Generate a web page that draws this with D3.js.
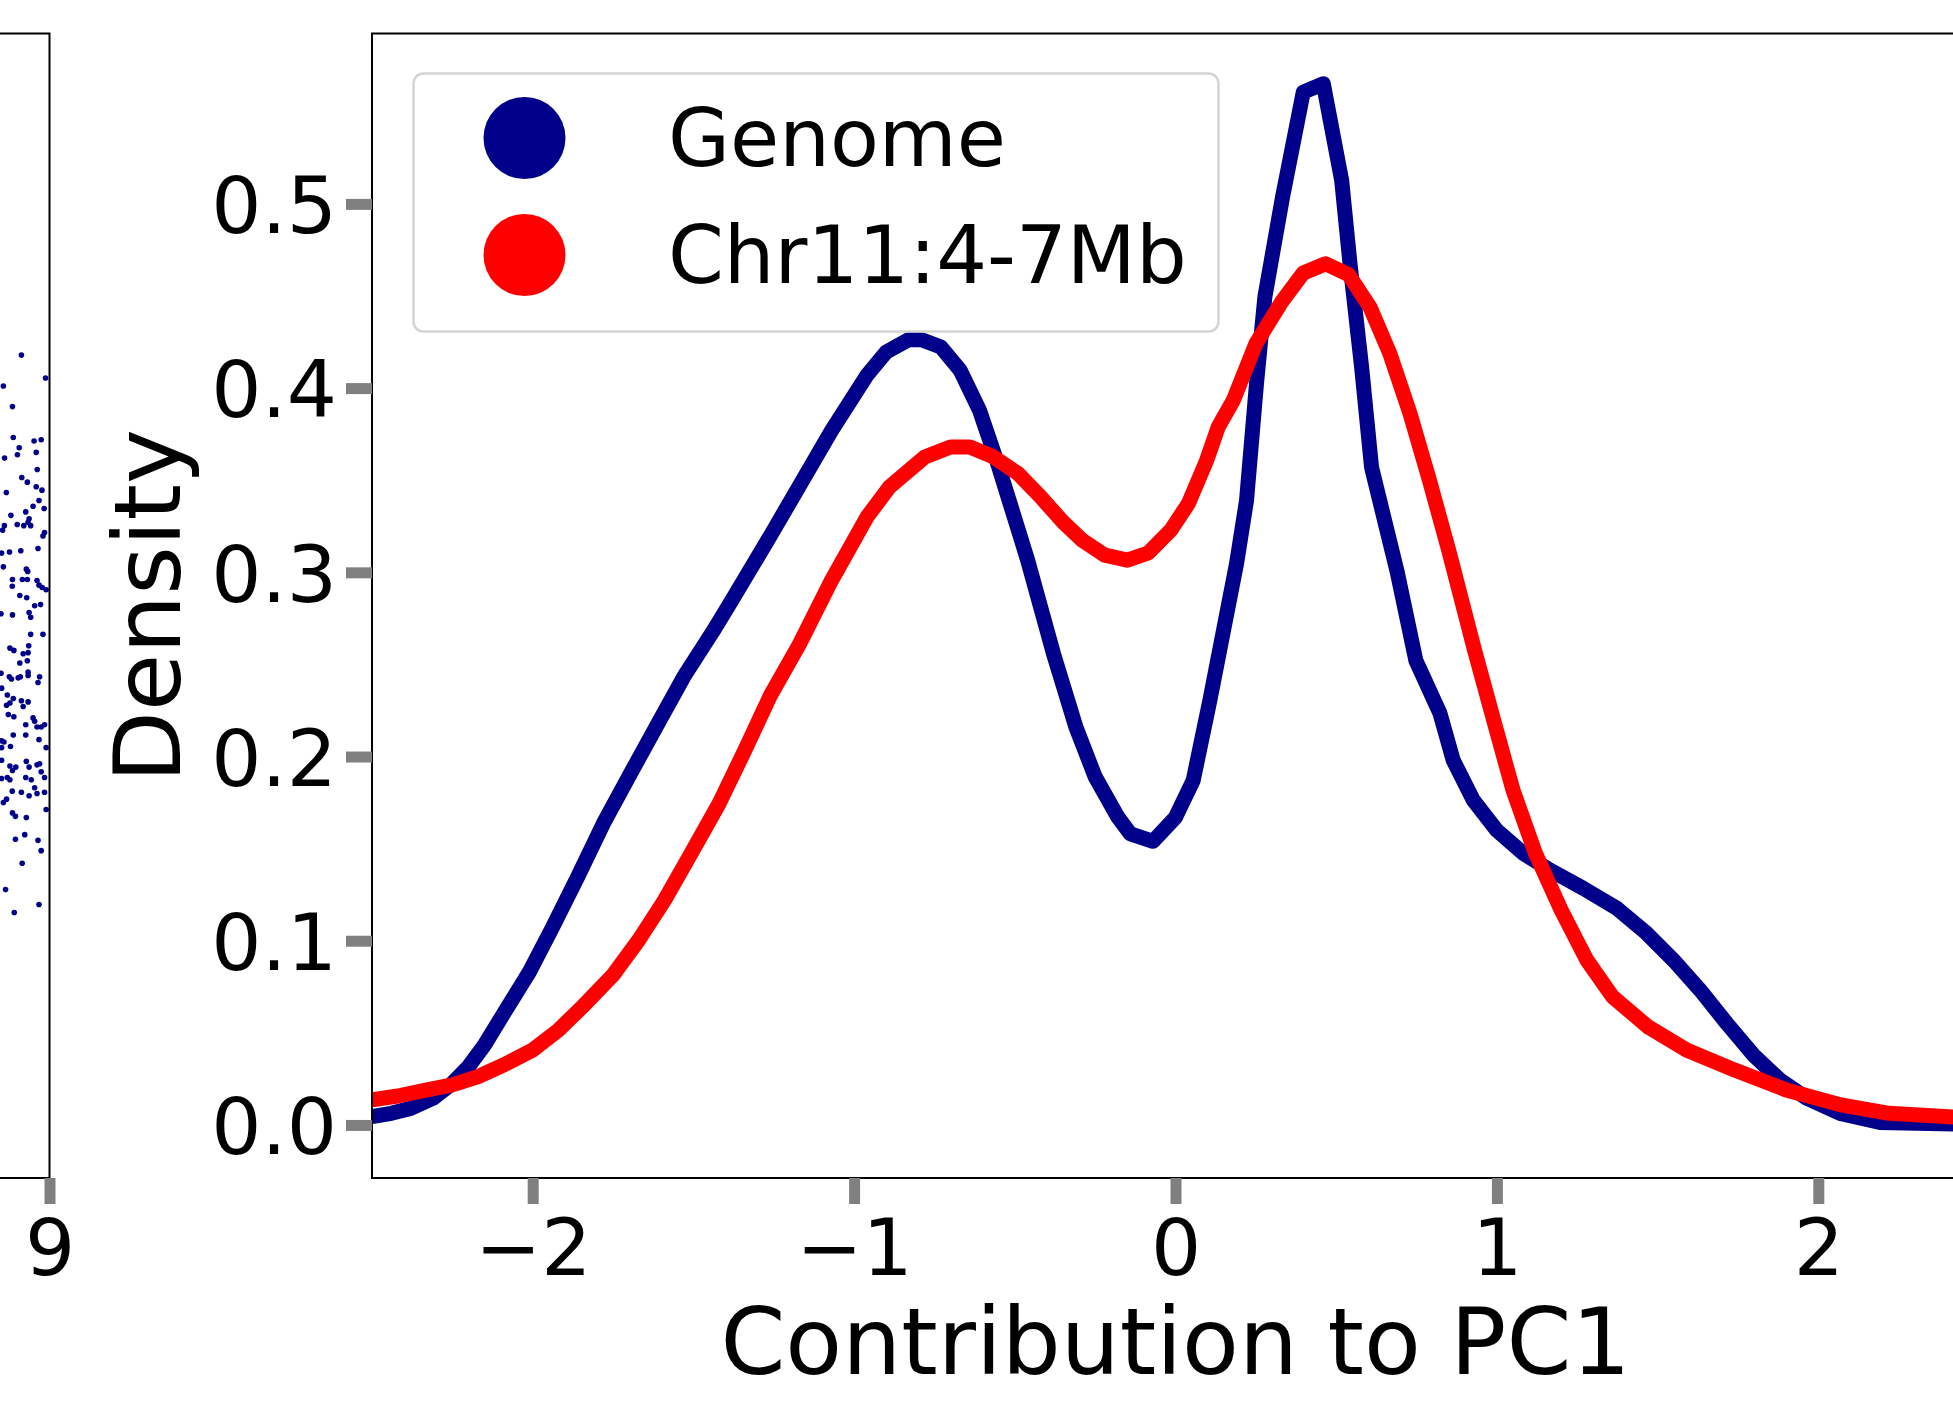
<!DOCTYPE html>
<html>
<head>
<meta charset="utf-8">
<script src="https://cdn.jsdelivr.net/npm/d3@7"></script>
<style>
  html, body { margin: 0; padding: 0; background: #fff; }
  svg { display: block; font-family: "DejaVu Sans", sans-serif; }
</style>
</head>
<body>
<div id="chart"></div>
<script>
// density curves
const genomeX = [-2.50, -2.44, -2.38, -2.31, -2.25, -2.20, -2.15, -2.09, -2.01, -1.94, -1.86, -1.78, -1.69, -1.61, -1.53, -1.44, -1.38, -1.26, -1.17, -1.07, -0.96, -0.90, -0.83, -0.79, -0.73, -0.67, -0.61, -0.55, -0.46, -0.38, -0.31, -0.25, -0.18, -0.14, -0.07, 0.00, 0.055, 0.107, 0.19, 0.221, 0.252, 0.278, 0.333, 0.3975, 0.46, 0.517, 0.543, 0.579, 0.61, 0.69, 0.748, 0.823, 0.864, 0.9265, 0.999, 1.082, 1.165, 1.269, 1.373, 1.466, 1.549, 1.632, 1.715, 1.798, 1.881, 1.964, 2.068, 2.192, 2.50];
const genomeY = [0.0045, 0.0063, 0.009, 0.0145, 0.0226, 0.0316, 0.0434, 0.0606, 0.0832, 0.1067, 0.1347, 0.1637, 0.1926, 0.218, 0.2433, 0.2677, 0.2849, 0.320, 0.347, 0.377, 0.407, 0.4196, 0.4263, 0.4263, 0.4223, 0.4097, 0.388, 0.3572, 0.3066, 0.256, 0.216, 0.189, 0.1673, 0.158, 0.154, 0.167, 0.187, 0.2306, 0.3048, 0.339, 0.4024, 0.4494, 0.5037, 0.5607, 0.5652, 0.5128, 0.4675, 0.4115, 0.357, 0.300, 0.252, 0.2234, 0.198, 0.1763, 0.160, 0.1474, 0.1384, 0.1284, 0.1176, 0.104, 0.0895, 0.0733, 0.0552, 0.038, 0.0244, 0.0145, 0.0063, 0.0013, 0.0002];

const chrX = [-2.50, -2.42, -2.34, -2.25, -2.17, -2.09, -2.00, -1.92, -1.84, -1.75, -1.67, -1.59, -1.51, -1.42, -1.34, -1.26, -1.17, -1.07, -0.96, -0.89, -0.78, -0.70, -0.64, -0.57, -0.49, -0.42, -0.35, -0.29, -0.22, -0.15, -0.085, -0.015, 0.04, 0.097, 0.133, 0.18, 0.25, 0.33, 0.3975, 0.467, 0.538, 0.605, 0.667, 0.73, 0.79, 0.85, 0.93, 0.99, 1.05, 1.12, 1.20, 1.28, 1.36, 1.47, 1.59, 1.74, 1.90, 2.07, 2.22, 2.50];
const chrY = [0.0136, 0.0157, 0.0186, 0.0217, 0.0262, 0.0326, 0.0407, 0.0515, 0.0651, 0.0814, 0.1004, 0.122, 0.1465, 0.1745, 0.2034, 0.2333, 0.261, 0.2957, 0.330, 0.3463, 0.3626, 0.368, 0.368, 0.363, 0.3536, 0.341, 0.3273, 0.3174, 0.3093, 0.3066, 0.3105, 0.3228, 0.3373, 0.3608, 0.3789, 0.3934, 0.4241, 0.4467, 0.4625, 0.4675, 0.4617, 0.444, 0.4187, 0.386, 0.350, 0.312, 0.258, 0.2197, 0.1818, 0.1474, 0.1166, 0.0895, 0.0696, 0.0533, 0.0407, 0.0298, 0.019, 0.0109, 0.0063, 0.0035];

const seriesNames = ["Genome", "Chr11:4-7Mb"];
const seriesColors = ["#00008b", "#ff0000"];

const xTicks = [-2, -1, 0, 1, 2];
const yTicks = [0, 0.1, 0.2, 0.3, 0.4, 0.5];
const xLabel = "Contribution to PC1";
const yLabel = "Density";

// the cut-off panel on the left: only its right edge is in view
const leftDotsX = [8.858, 8.980, 8.767, 8.813, 8.817, 8.922, 8.958, 8.847, 8.838, 8.933, 8.773, 8.938, 8.860, 8.888, 8.933, 8.962, 8.782, 8.947, 8.917, 8.973, 8.880, 8.805, 8.897, 8.892, 8.905, 8.870, 8.837, 8.772, 8.763, 8.975, 8.967, 8.942, 8.855, 8.798, 8.758, 8.767, 8.883, 8.890, 8.813, 8.863, 8.888, 8.937, 8.947, 8.963, 8.983, 8.812, 8.850, 8.885, 8.755, 8.813, 8.897, 8.905, 8.925, 8.955,
  8.905, 8.967, 8.800, 8.820, 8.895, 8.867, 8.892, 8.850, 8.888, 8.755, 8.892, 8.797, 8.808, 8.842, 8.853, 8.892, 8.950, 8.942, 8.758, 8.787, 8.817, 8.783, 8.800, 8.858, 8.892, 8.867, 8.792, 8.820, 8.917, 8.925, 8.880, 8.975, 8.937, 8.958, 8.817, 8.880, 8.947, 8.758, 8.770, 8.803, 8.983, 8.758, 8.758, 8.883, 8.950, 8.937, 8.800, 8.830, 8.813, 8.897, 8.958, 8.787, 8.800, 8.880, 8.908, 8.975, 8.758, 8.925, 8.937, 8.975, 8.812, 8.858, 8.897, 8.767, 8.783, 8.983, 8.813, 8.828, 8.883, 8.875, 8.828, 8.942, 8.958, 8.862, 8.778, 8.947, 8.822];
const leftDotsY = [0.719, 0.699, 0.692, 0.674, 0.647, 0.644, 0.645, 0.638, 0.632, 0.634, 0.629, 0.619, 0.612, 0.608, 0.604, 0.601, 0.599, 0.592, 0.587, 0.585, 0.582, 0.579, 0.576, 0.573, 0.570, 0.570, 0.571, 0.570, 0.566, 0.564, 0.561, 0.550, 0.548, 0.547, 0.546, 0.534, 0.532, 0.530, 0.523, 0.523, 0.523, 0.522, 0.518, 0.516, 0.514, 0.517, 0.509, 0.507, 0.493, 0.492, 0.494, 0.490, 0.500, 0.501,
  0.475, 0.475, 0.463, 0.461, 0.465, 0.458, 0.459, 0.450, 0.452, 0.441, 0.442, 0.438, 0.436, 0.437, 0.438, 0.439, 0.438, 0.433, 0.428, 0.422, 0.419, 0.413, 0.415, 0.417, 0.416, 0.412, 0.405, 0.403, 0.402, 0.399, 0.396, 0.396, 0.394, 0.394, 0.387, 0.387, 0.383, 0.382, 0.381, 0.377, 0.376, 0.376, 0.365, 0.364, 0.362, 0.361, 0.360, 0.359, 0.356, 0.359, 0.355, 0.350, 0.348, 0.350, 0.348, 0.350, 0.349, 0.341, 0.336, 0.337, 0.338, 0.337, 0.334, 0.328, 0.331, 0.322, 0.319, 0.316, 0.315, 0.300, 0.296, 0.295, 0.286, 0.275, 0.252, 0.239, 0.232];
const leftXTicks = [9];

const width = 1953;
const height = 1401;
const plot = { left: 372, right: 1979, top: 33.5, bottom: 1178 };
const leftPlot = { right: 49.5, top: 33.5, bottom: 1178 };
const tickFont = 79;
const legendFont = 80;
const labelFont = 93;
const tickColor = "#808080";

const svg = d3.select("#chart").append("svg").attr("width", width).attr("height", height);
svg.append("rect").attr("width", width).attr("height", height).attr("fill", "#fff");

function styleAxis(g) {
    g.select(".domain").remove();
    g.attr("font-family", "DejaVu Sans").attr("font-size", tickFont);
    g.selectAll(".tick line").attr("stroke", tickColor).attr("stroke-width", 11);
    g.selectAll(".tick text").attr("fill", "#000");
}

// ---- left panel (cropped) ----
const xL = d3.scaleLinear().domain([8.75, 9.0]).range([0, leftPlot.right]);
const yL = d3.scaleLinear().domain([0, 1]).range([leftPlot.bottom, leftPlot.top]);

svg.append("g").selectAll("circle").data(leftDotsX).join("circle")
    .attr("cx", d => xL(d)).attr("cy", (d, i) => yL(leftDotsY[i])).attr("r", 2.8).attr("fill", "#00008b");

svg.append("path")
    .attr("d", `M-10,${leftPlot.top}H${leftPlot.right}V${leftPlot.bottom}H-10`)
    .attr("fill", "none").attr("stroke", "#000").attr("stroke-width", 2);

svg.append("g").attr("transform", `translate(0,${leftPlot.bottom})`)
    .call(d3.axisBottom(xL).tickValues(leftXTicks).tickSize(26).tickPadding(15).tickFormat(d3.format("d")))
    .call(styleAxis);

// ---- right panel ----
const x = d3.scaleLinear().domain([-2.5, 2.5]).range([plot.left, plot.right]);
const y = d3.scaleLinear().domain([-0.0288, 0.5925]).range([plot.bottom, plot.top]);

svg.append("clipPath").attr("id", "plot-clip").append("rect")
    .attr("x", plot.left).attr("y", plot.top).attr("width", plot.right - plot.left).attr("height", plot.bottom - plot.top);

const series = [
    { name: seriesNames[0], color: seriesColors[0], pts: genomeX.map((v, i) => [v, genomeY[i]]) },
    { name: seriesNames[1], color: seriesColors[1], pts: chrX.map((v, i) => [v, chrY[i]]) }
];

const line = d3.line().x(d => x(d[0])).y(d => y(d[1]));

svg.append("g").attr("clip-path", "url(#plot-clip)")
    .selectAll("path").data(series).join("path")
    .attr("d", d => line(d.pts)).attr("fill", "none").attr("stroke", d => d.color)
    .attr("stroke-width", 15).attr("stroke-linejoin", "round");

svg.append("rect")
    .attr("x", plot.left).attr("y", plot.top).attr("width", plot.right - plot.left).attr("height", plot.bottom - plot.top)
    .attr("fill", "none").attr("stroke", "#000").attr("stroke-width", 2);

svg.append("g").attr("transform", `translate(0,${plot.bottom})`)
    .call(d3.axisBottom(x).tickValues(xTicks).tickSize(26).tickPadding(15).tickFormat(d3.format("d")))
    .call(styleAxis);

svg.append("g").attr("transform", `translate(${plot.left},0)`)
    .call(d3.axisLeft(y).tickValues(yTicks).tickSize(26).tickPadding(9).tickFormat(d3.format(".1f")))
    .call(styleAxis)
    .call(g => g.selectAll(".tick text").attr("dy", "0.365em"));

svg.append("text").attr("x", x(0)).attr("y", 1374).attr("text-anchor", "middle")
    .attr("font-size", labelFont).attr("fill", "#000").text(xLabel);

svg.append("text").attr("transform", `translate(180,${(plot.top + plot.bottom) / 2}) rotate(-90)`)
    .attr("text-anchor", "middle").attr("font-size", labelFont).attr("fill", "#000").text(yLabel);

// legend
const legend = svg.append("g");
legend.append("rect").attr("x", 413.5).attr("y", 73.5).attr("width", 805).attr("height", 258).attr("rx", 10)
    .attr("fill", "#fff").attr("fill-opacity", 0.8).attr("stroke", "#d4d4d4").attr("stroke-width", 2.5);

const items = legend.selectAll("g.item").data(series).join("g").attr("class", "item")
    .attr("transform", (d, i) => `translate(0,${i * 117})`);
items.append("circle").attr("cx", 524.5).attr("cy", 138).attr("r", 41).attr("fill", d => d.color);
items.append("text").attr("x", 668).attr("y", 166).attr("font-size", legendFont).attr("fill", "#000").text(d => d.name);
</script>
</body>
</html>
